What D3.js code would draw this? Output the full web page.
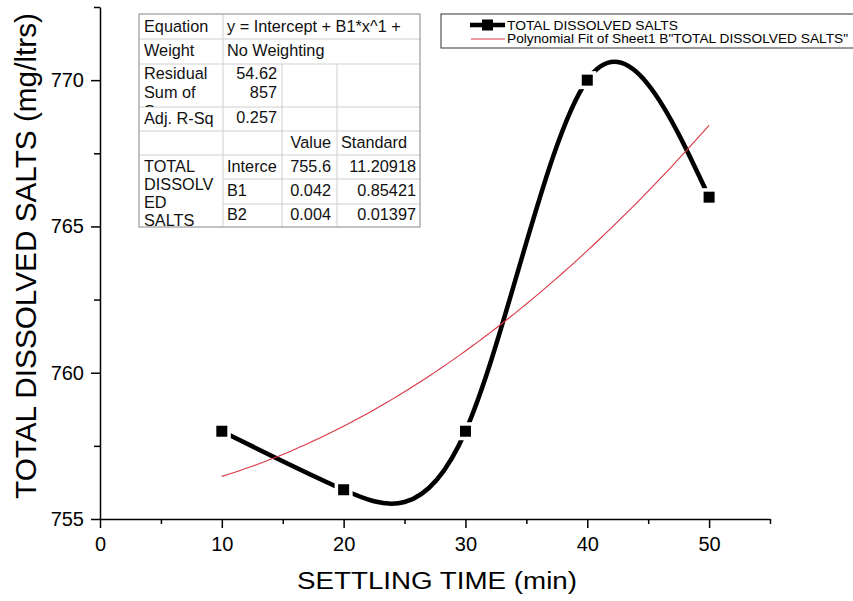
<!DOCTYPE html>
<html><head><meta charset="utf-8">
<script src="https://cdn.jsdelivr.net/npm/d3@7"></script>
<style>
body{margin:0;background:#fff;}
svg{display:block;font-family:"Liberation Sans",Arial,sans-serif;}
</style></head>
<body><svg id="c" width="853" height="601"></svg>
<script>
// ---- data ----
const settlingTime = [10, 20, 30, 40, 50];
const tdsValues = [758, 756, 758, 770, 766];
const fitCoefficients = [755.6, 0.042857, 0.0042857]; // Intercept, B1, B2
const xTicks = [0, 10, 20, 30, 40, 50];
const xMinorTicks = [5, 15, 25, 35, 45, 55];
const yTicks = [755, 760, 765, 770];
const yMinorTicks = [757.5, 762.5, 767.5, 772.5];
const seriesName = "TOTAL DISSOLVED SALTS";
const fitName = 'Polynomial Fit of Sheet1 B"TOTAL DISSOLVED SALTS"';
const xTitle = "SETTLING TIME (min)";
const yTitle = "TOTAL DISSOLVED SALTS (mg/ltrs)";

const svg = d3.select("#c");
const x = d3.scaleLinear().domain([0, 55]).range([100, 770]);
const y = d3.scaleLinear().domain([755, 772.5]).range([519, 7]);

// axes
const gx = svg.append("g").attr("transform", "translate(0,519)");
gx.call(d3.axisBottom(x).tickValues(xMinorTicks).tickSize(5).tickSizeOuter(0).tickFormat(""));
gx.call(g => g.selectAll(".domain").remove());
svg.append("g").attr("transform", "translate(0,519)")
  .call(d3.axisBottom(x).tickValues(xTicks).tickSize(9).tickSizeOuter(0).tickPadding(9).tickFormat(d3.format("d")));
const gy = svg.append("g").attr("transform", "translate(100,0)");
gy.call(d3.axisLeft(y).tickValues(yMinorTicks).tickSize(6).tickSizeOuter(0).tickFormat(""));
gy.call(g => g.selectAll(".domain").remove());
svg.append("g").attr("transform", "translate(100,0)")
  .call(d3.axisLeft(y).tickValues(yTicks).tickSize(9).tickSizeOuter(0).tickPadding(7).tickFormat(d3.format("d")));
svg.selectAll(".tick line").attr("stroke", "#000").attr("stroke-width", 1.5);
svg.selectAll(".domain").attr("stroke", "#000").attr("stroke-width", 1.5);
svg.selectAll(".tick text").attr("font-size", 20).attr("fill", "#000")
  .attr("font-family", "Liberation Sans, Arial, sans-serif");

// axis titles
svg.append("text").attr("x", 437).attr("y", 589).attr("text-anchor", "middle")
  .attr("font-size", 23).attr("textLength", 280).attr("lengthAdjust", "spacingAndGlyphs")
  .text(xTitle);
svg.append("text").attr("transform", "translate(36,256) rotate(-90)").attr("text-anchor", "middle")
  .attr("font-size", 29).attr("textLength", 486).attr("lengthAdjust", "spacingAndGlyphs").text(yTitle);

// data series
const pts = settlingTime.map((t, i) => [t, tdsValues[i]]);
svg.append("path").datum(pts)
  .attr("d", d3.line().x(d => x(d[0])).y(d => y(d[1])).curve(d3.curveNatural))
  .attr("fill", "none").attr("stroke", "#000").attr("stroke-width", 4.5);
svg.selectAll("rect.halo").data(pts).join("rect").attr("class", "halo")
  .attr("x", d => x(d[0]) - 9).attr("y", d => y(d[1]) - 9).attr("width", 18).attr("height", 18)
  .attr("fill", "#fff");
svg.selectAll("rect.mk").data(pts).join("rect").attr("class", "mk")
  .attr("x", d => x(d[0]) - 5.5).attr("y", d => y(d[1]) - 5.5).attr("width", 11).attr("height", 11)
  .attr("fill", "#000");

// fit line
const fitX = d3.range(settlingTime[0], settlingTime[settlingTime.length - 1] + 0.001, 0.5);
const fitFn = t => fitCoefficients[0] + fitCoefficients[1] * t + fitCoefficients[2] * t * t;
svg.append("path").datum(fitX)
  .attr("d", d3.line().x(d => x(d)).y(d => y(fitFn(d))))
  .attr("fill", "none").attr("stroke", "#dc3545").attr("stroke-width", 1.1);

// stats table
const tbl = svg.append("g");
const cols = [139, 223, 282, 337, 420];
const rows = [14, 39, 64, 107, 131, 155, 179, 204, 227];
tbl.append("rect").attr("x", cols[0]).attr("y", rows[0]).attr("width", cols[4] - cols[0])
  .attr("height", rows[8] - rows[0]).attr("fill", "#fff");
const lines = [
  ["h", cols[0], cols[4], rows[1]], ["h", cols[0], cols[4], rows[2]], ["h", cols[0], cols[4], rows[3]],
  ["h", cols[0], cols[4], rows[4]], ["h", cols[0], cols[4], rows[5]],
  ["h", cols[1], cols[4], rows[6]], ["h", cols[1], cols[4], rows[7]],
  ["v", rows[0], rows[8], cols[1]], ["v", rows[2], rows[8], cols[2]], ["v", rows[2], rows[8], cols[3]]
];
lines.forEach(l => {
  if (l[0] === "h") tbl.append("line").attr("x1", l[1]).attr("x2", l[2]).attr("y1", l[3]).attr("y2", l[3]);
  else tbl.append("line").attr("y1", l[1]).attr("y2", l[2]).attr("x1", l[3]).attr("x2", l[3]);
});
tbl.selectAll("line").attr("stroke", "#cfcfcf").attr("stroke-width", 1);
tbl.append("rect").attr("x", cols[0]).attr("y", rows[0]).attr("width", cols[4] - cols[0])
  .attr("height", rows[8] - rows[0]).attr("fill", "none").attr("stroke", "#9a9a9a").attr("stroke-width", 1.2);

const defs = svg.append("defs");
function clip(id, x0, y0, x1, y1) {
  defs.append("clipPath").attr("id", id).append("rect").attr("x", x0).attr("y", y0).attr("width", x1 - x0).attr("height", y1 - y0);
  return "url(#" + id + ")";
}
const cells = [
  ["Equation", 144, 32, "start", clip("c0", cols[0], rows[0], cols[1], rows[1])],
  ["y = Intercept + B1*x^1 +", 227, 32, "start", clip("c1", cols[1], rows[0], cols[4], rows[1])],
  ["Weight", 144, 56, "start", null],
  ["No Weighting", 227, 56, "start", null],
  ["Residual", 144, 79, "start", null],
  ["Sum of", 144, 98, "start", null],
  ["Squares", 144, 117, "start", clip("c2", cols[0], rows[2], cols[1], rows[3])],
  ["54.62", 277, 79, "end", null],
  ["857", 277, 98, "end", null],
  ["Adj. R-Sq", 144, 124, "start", null],
  ["0.257", 277, 123, "end", null],
  ["Value", 331, 148, "end", null],
  ["Standard", 341, 148, "start", clip("c3", cols[3], rows[4], cols[4], rows[5])],
  ["TOTAL", 144, 172, "start", null],
  ["DISSOLV", 144, 190, "start", null],
  ["ED", 144, 208, "start", null],
  ["SALTS", 144, 226, "start", null],
  ["Interce", 227, 172, "start", clip("c4", cols[1], rows[5], cols[2], rows[6])],
  ["B1", 227, 196, "start", null],
  ["B2", 227, 220, "start", null],
  ["755.6", 331, 172, "end", null],
  ["0.042", 331, 196, "end", null],
  ["0.004", 331, 220, "end", null],
  ["11.20918", 416, 172, "end", null],
  ["0.85421", 416, 196, "end", null],
  ["0.01397", 416, 220, "end", null]
];
cells.forEach(c => {
  const t = tbl.append("text").attr("x", c[1]).attr("y", c[2]).attr("text-anchor", c[3])
    .attr("font-size", 16.3).attr("fill", "#111").text(c[0]);
  if (c[4]) t.attr("clip-path", c[4]);
});

// legend
const lg = svg.append("g");
lg.append("rect").attr("x", 441).attr("y", 14).attr("width", 430).attr("height", 34)
  .attr("fill", "#fff").attr("stroke", "#333").attr("stroke-width", 1);
lg.append("line").attr("x1", 470).attr("x2", 505).attr("y1", 25).attr("y2", 25)
  .attr("stroke", "#000").attr("stroke-width", 4.5);
lg.append("rect").attr("x", 482).attr("y", 19.5).attr("width", 11).attr("height", 11).attr("fill", "#000");
lg.append("text").attr("x", 507).attr("y", 29.5).attr("font-size", 12.5)
  .attr("textLength", 171).attr("lengthAdjust", "spacingAndGlyphs").text(seriesName);
lg.append("line").attr("x1", 471).attr("x2", 505).attr("y1", 39).attr("y2", 39)
  .attr("stroke", "#dc3545").attr("stroke-width", 1.1);
lg.append("text").attr("x", 507).attr("y", 43).attr("font-size", 12.5)
  .attr("textLength", 341).attr("lengthAdjust", "spacingAndGlyphs").text(fitName);
</script></body></html>
